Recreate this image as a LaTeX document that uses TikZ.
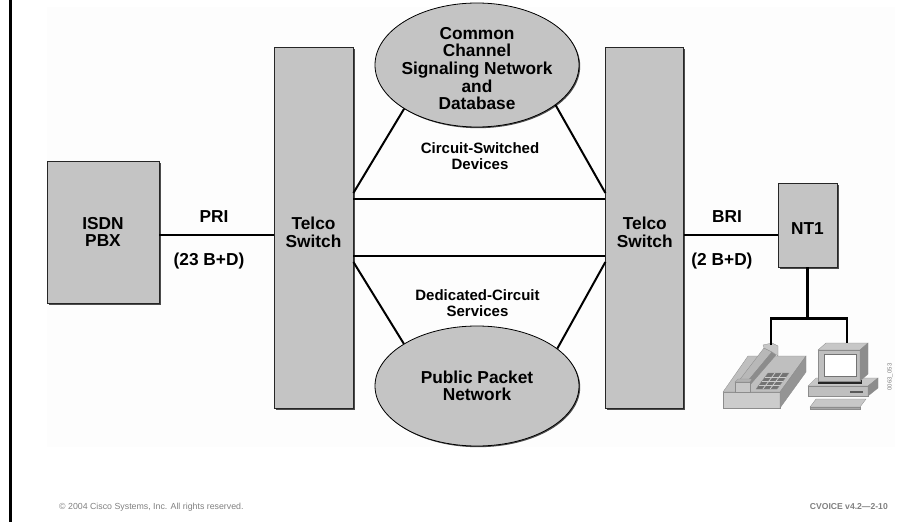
\documentclass[tikz,border=0pt]{standalone}
\usepackage{fontspec}
\setmainfont{Liberation Sans}
\usepackage{xcolor}
\usepackage{tikz}
\usetikzlibrary{shapes.geometric,positioning,calc,shadows}

\definecolor{boxgray}{RGB}{196,196,196}
\definecolor{footgray}{RGB}{128,128,128}

\begin{document}
\begin{tikzpicture}[
    x=1pt, y=-1pt,
    swbox/.style={rectangle, draw=black!85, fill=boxgray, line width=0.8pt, align=center, inner sep=0pt, font=\bfseries\fontsize{17.3}{17.8}\selectfont, drop shadow={shadow xshift=1.6pt, shadow yshift=-1.6pt, fill=black!70, opacity=1}},
    netell/.style={ellipse, draw=black, fill=boxgray, line width=0.8pt, align=center, inner xsep=-10pt, inner ysep=-6pt, minimum width=204pt, minimum height=124pt, font=\bfseries\fontsize{17.3}{17.6}\selectfont, drop shadow={shadow xshift=1.2pt, shadow yshift=-1.2pt, fill=black!70, opacity=1}},
    lbl/.style={align=center, inner sep=0pt, font=\bfseries\fontsize{17.3}{17.8}\selectfont},
    smlbl/.style={align=center, inner sep=0pt, font=\bfseries\fontsize{15}{16}\selectfont},
    foot/.style={inner sep=0pt, text=footgray},
    link/.style={draw=black, line width=2pt},
    thinlink/.style={draw=black, line width=1.6pt},
    buslink/.style={draw=black, line width=2.6pt},
    face/.style={draw=black!45, line width=0.3pt}
]
    \useasboundingbox (0,0) rectangle (919,522);
    \fill [black!0.7] (47,7) rectangle (895,447);
    \draw [line width=3.6pt] (10.5,0) -- (10.5,522);

    \node [swbox, minimum width=112pt, minimum height=142pt] (pbx) at (103,232) {ISDN\\PBX};
    \node [swbox, minimum width=79pt, minimum height=361pt] (swL) at (313.5,227.5) {\rule{0pt}{22pt}Telco\\Switch};
    \node [swbox, minimum width=78pt, minimum height=361pt, right=252pt of swL] (swR) {\rule{0pt}{22pt}Telco\\Switch};
    \node [swbox, minimum width=59pt, minimum height=84pt] (nt1) at (807.5,225) {\rule{0pt}{18pt}NT1};

    \node [netell] (ccs) at (477,65) {\rule{0pt}{19pt}Common\\Channel\\Signaling Network\\and\\Database};
    \node [netell, minimum height=120pt] (ppn) at (477,386) {Public Packet\\Network};

    \node [smlbl] (csd) at (480,156) {Circuit-Switched\\Devices};
    \node [smlbl] (dcs) at (477.5,303) {Dedicated-Circuit\\Services};

    \draw [link] (ccs.211) -- ([yshift=34.5pt]swL.east);
    \draw [link] (ccs.333) -- ([yshift=34.5pt]swR.west);
    \draw [link] ([yshift=28.5pt]swL.east) -- ([yshift=28.5pt]swR.west);
    \draw [link] ([yshift=-28.5pt]swL.east) -- ([yshift=-28.5pt]swR.west);
    \draw [link] (ppn.150) -- ([yshift=-34.5pt]swL.east);
    \draw [link] (ppn.25) -- ([yshift=-34.5pt]swR.west);

    \coordinate (pri) at ([yshift=-7.5pt]swL.west);
    \coordinate (bri) at ([yshift=-7.5pt]swR.east);
    \draw [thinlink] (pbx.east |- pri) -- (pri);
    \draw [thinlink] (bri) -- (bri -| nt1.west);
    \node [lbl] (prilbl) at (214,216.5) {PRI};
    \node [lbl] (pribch) at (209,261) {(23 B+D)};
    \node [lbl] (brilbl) at (727,216.5) {BRI};
    \node [lbl] (bribch) at (722,261) {(2 B+D)};

    % telephone
    \filldraw [face, fill=black!20] (723,392) rectangle (780,408);
    \filldraw [face, fill=black!25] (723,392) -- (780,392) -- (806,356) -- (748,356) -- cycle;
    \filldraw [face, fill=black!42] (780,392) -- (806,356) -- (806,372) -- (780,408) -- cycle;
    \filldraw [face, fill=black!55] (756,389) -- (777,389) -- (789,373) -- (768,373) -- cycle;
    \foreach \t in {0.25,0.5,0.75}
        \draw [white!80!black, line width=0.8pt] ($(756,389)!\t!(768,373)$) -- ($(777,389)!\t!(789,373)$);
    \foreach \t in {0.33,0.67}
        \draw [white!80!black, line width=0.8pt] ($(756,389)!\t!(777,389)$) -- ($(768,373)!\t!(789,373)$);
    \filldraw [face, fill=black!28] (738,382) -- (747,382) -- (772,352) -- (764,348) -- cycle;
    \filldraw [face, fill=black!45] (747,382) -- (750,385) -- (776,355) -- (772,352) -- cycle;
    \filldraw [face, fill=black!22] (763,345) -- (772,343) -- (778,346) -- (778,356) -- (772,352) -- (764,348) -- cycle;
    \filldraw [face, fill=black!22] (735,382) rectangle (750,392);
    \filldraw [face, fill=black!30] (735,382) -- (738,379) -- (752,379) -- (750,382) -- cycle;

    % computer
    \filldraw [face, fill=black!22] (808,386) -- (816,378) -- (878,378) -- (868,386) -- cycle;
    \filldraw [face, fill=black!25] (808,386) rectangle (868,396);
    \filldraw [face, fill=black!45] (868,386) -- (878,378) -- (878,388) -- (868,396) -- cycle;
    \fill [black!65] (850,390.5) rectangle (863,392.5);
    \fill [black!85] (818,380) rectangle (862,384);
    \filldraw [face, fill=black!22] (818,350) -- (826,343) -- (868,343) -- (860,350) -- cycle;
    \filldraw [face, fill=black!25] (818,350) rectangle (860,381);
    \filldraw [face, fill=black!45] (860,350) -- (868,343) -- (868,374) -- (860,381) -- cycle;
    \filldraw [draw=black!55, fill=white] (824,354) rectangle (856,376);
    \filldraw [face, fill=black!22] (810,407) -- (860,407) -- (866,399) -- (816,399) -- cycle;
    \filldraw [face, fill=black!35] (810,407) rectangle (860,409);

    \coordinate (bus) at ([yshift=-51pt]nt1.south);
    \coordinate (phone) at (771,345);
    \coordinate (pc) at (847,343);
    \draw [buslink] (nt1.south) -- (bus);
    \draw [buslink] (phone) |- (bus) -| (pc);

    \node [foot, rotate=90, font=\fontsize{6}{7}\selectfont] (figid) at (890,377) {0063\_053};
    \node [foot, anchor=west, font=\fontsize{8.8}{10}\selectfont] (copy) at (59,507) {© 2004 Cisco Systems, Inc. All rights reserved.};
    \node [foot, anchor=east, font=\bfseries\fontsize{8.6}{10}\selectfont] (course) at (888,507) {CVOICE v4.2—2-10};
\end{tikzpicture}
\end{document}
